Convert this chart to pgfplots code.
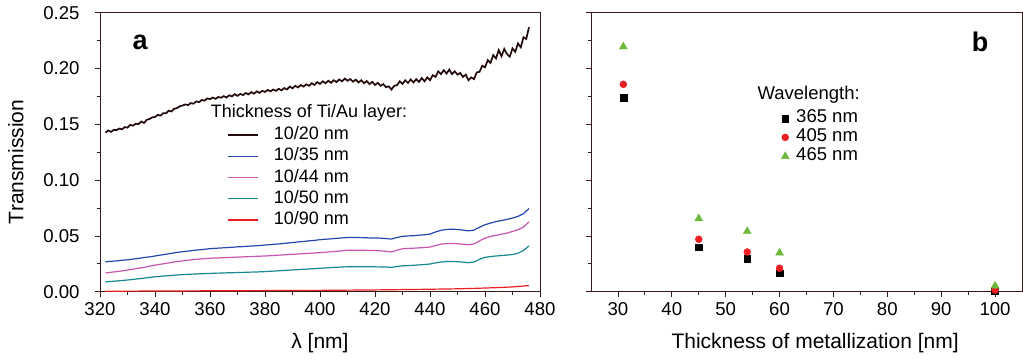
\documentclass[border=0pt]{standalone}
\usepackage{pgfplots}
\pgfplotsset{compat=1.18}
\usepackage{fontspec}
\setmainfont{Liberation Sans}
\definecolor{frame}{RGB}{55,25,25}
\definecolor{cblack}{RGB}{35,10,10}
\definecolor{cblue}{RGB}{35,70,170}
\definecolor{cmag}{RGB}{200,85,175}
\definecolor{cteal}{RGB}{20,135,145}
\definecolor{cred}{RGB}{235,30,35}
\definecolor{cgreen}{RGB}{110,185,60}
\pgfplotsset{
  common/.style={
    scale only axis, height=279pt,
    ymin=0, ymax=0.25,
    ytick={0,0.05,...,0.25}, minor y tick num=1,
    minor x tick num=1,
    tick align=outside, major tick length=5pt, minor tick length=3pt,
    xtick pos=bottom, ytick pos=left,
    axis line style={frame, line width=0.8pt},
    tick style={frame, line width=0.8pt},
    ticklabel style={font=\fontsize{18.6}{22}\selectfont},
    /pgf/number format/assume math mode=true,
    label style={font=\fontsize{21}{25}\selectfont},
    scaled y ticks=false,
  }
}
\begin{document}
\begin{tikzpicture}
\path[use as bounding box] (-100pt,-68.3pt) rectangle (923pt,291.7pt);
\begin{axis}[common,
  width=440pt,
  xmin=320, xmax=480, xtick={320,340,...,480},
  yticklabel style={/pgf/number format/fixed, /pgf/number format/fixed zerofill, /pgf/number format/precision=2, xshift=-12pt},
  xticklabel style={yshift=-2pt},
  xlabel={λ [nm]}, ylabel={Transmission},
  xlabel style={at={(axis description cs:0.5,-0.183)}, anchor=center},
  ylabel style={at={(axis description cs:-0.191,0.465)}, anchor=center},
  legend style={at={(axis description cs:0.289,0.592)}, anchor=north west, draw=none, fill=none,
    inner sep=0pt, font=\fontsize{18}{21}\selectfont, row sep=4.4pt,
    nodes={inner sep=0pt, text height=13pt, text depth=3.8pt},
    /tikz/every odd column/.append style={column sep=15pt}},
  legend image code/.code={\draw[#1, line width=1.5pt] (0pt,0pt) -- (30pt,0pt);},
]
\addplot[cblack, line width=1.7pt] coordinates {
(322,.1425)(323,.1445)(324,.1432)(325,.1450)(326,.1448)(327,.1462)(328,.1455)(329,.1475)(330,.1470)
(331,.1495)(332,.1488)(333,.1505)(334,.1502)(335,.1525)(336,.1512)(337,.1540)(338,.1548)(339,.1562)(340,.1565)
(341,.1585)(342,.1578)(343,.1600)(344,.1598)(345,.1622)(346,.1615)(347,.1640)(348,.1645)(349,.1662)(350,.1668)
(351,.1678)(352,.1672)(353,.1690)(354,.1685)(355,.1705)(356,.1698)(357,.1718)(358,.1712)(359,.1732)(360,.1725)
(361,.1740)(362,.1728)(363,.1745)(364,.1738)(365,.1752)(366,.1740)(367,.1760)(368,.1750)(369,.1770)(370,.1755)
(371,.1772)(372,.1762)(373,.1780)(374,.1768)(375,.1788)(376,.1775)(377,.1795)(378,.1782)(379,.1800)(380,.1790)
(381,.1808)(382,.1795)(383,.1812)(384,.1800)(385,.1818)(386,.1805)(387,.1825)(388,.1812)(389,.1838)(390,.1822)
(391,.1845)(392,.1830)(393,.1852)(394,.1838)(395,.1858)(396,.1845)(397,.1868)(398,.1852)(399,.1878)(400,.1862)
(401,.1885)(402,.1868)(403,.1890)(404,.1872)(405,.1895)(406,.1878)(407,.1902)(408,.1885)(409,.1910)(410,.1890)
(411,.1905)(412,.1882)(413,.1900)(414,.1875)(415,.1895)(416,.1868)(417,.1888)(418,.1860)(419,.1880)(420,.1852)
(421,.1872)(422,.1845)(423,.1860)(424,.1832)(425,.1840)(426,.1812)(427,.1845)(428,.1850)(429,.1885)(430,.1862)
(431,.1895)(432,.1870)(433,.1902)(434,.1875)(435,.1905)(436,.1880)(437,.1915)(438,.1885)(439,.1920)(440,.1895)
(441,.1940)(442,.1925)(443,.1975)(444,.1950)(445,.1985)(446,.1955)(447,.1990)(448,.1950)(449,.1975)(450,.1945)
(451,.1960)(452,.1925)(453,.1945)(454,.1895)(455,.1920)(456,.1905)(457,.1965)(458,.1970)(459,.2025)(460,.2010)
(461,.2075)(462,.2050)(463,.2120)(464,.2090)(465,.2165)(466,.2110)(467,.2175)(468,.2130)(469,.2105)(470,.2180)
(471,.2150)(472,.2225)(473,.2190)(474,.2280)(475,.2265)(476,.2370)
};
\addlegendentry{10/20 nm}
\addplot[cblue, line width=1.2pt] coordinates {
(322,.0268)(324,.0272)(326,.0276)(328,.0282)(330,.0286)(332,.0292)(334,.0298)(336,.0306)(338,.0312)(340,.0320)
(342,.0328)(344,.0336)(346,.0344)(348,.0352)(350,.0358)(352,.0364)(354,.0370)(356,.0375)(358,.0380)(360,.0386)
(362,.0389)(364,.0392)(366,.0395)(368,.0398)(370,.0402)(372,.0404)(374,.0408)(376,.0410)(378,.0414)(380,.0418)
(382,.0422)(384,.0426)(386,.0430)(388,.0436)(390,.0440)(392,.0446)(394,.0450)(396,.0456)(398,.0460)(400,.0466)
(402,.0470)(404,.0474)(406,.0478)(408,.0482)(410,.0486)(412,.0486)(414,.0485)(416,.0484)(418,.0482)(420,.0481)
(422,.0480)(424,.0476)(426,.0472)(428,.0486)(430,.0496)(432,.0500)(434,.0502)(436,.0506)(438,.0510)(440,.0516)
(442,.0535)(444,.0550)(446,.0558)(448,.0560)(450,.0558)(452,.0552)(454,.0545)(456,.0552)(458,.0578)(460,.0600)
(462,.0615)(464,.0628)(466,.0638)(468,.0648)(470,.0660)(472,.0675)(474,.0700)(476,.0745)
};
\addlegendentry{10/35 nm}
\addplot[cmag, line width=1.2pt] coordinates {
(322,.0168)(324,.0174)(326,.0180)(328,.0186)(330,.0194)(332,.0202)(334,.0210)(336,.0218)(338,.0228)(340,.0238)
(342,.0246)(344,.0254)(346,.0262)(348,.0270)(350,.0276)(352,.0282)(354,.0288)(356,.0292)(358,.0296)(360,.0300)
(362,.0302)(364,.0304)(366,.0306)(368,.0308)(370,.0310)(372,.0312)(374,.0314)(376,.0316)(378,.0318)(380,.0320)
(382,.0323)(384,.0326)(386,.0329)(388,.0332)(390,.0335)(392,.0338)(394,.0341)(396,.0344)(398,.0347)(400,.0350)
(402,.0354)(404,.0358)(406,.0362)(408,.0366)(410,.0372)(412,.0372)(414,.0372)(416,.0371)(418,.0370)(420,.0369)
(422,.0366)(424,.0362)(426,.0356)(428,.0372)(430,.0385)(432,.0388)(434,.0390)(436,.0393)(438,.0396)(440,.0400)
(442,.0414)(444,.0426)(446,.0432)(448,.0432)(450,.0430)(452,.0426)(454,.0420)(456,.0428)(458,.0455)(460,.0480)
(462,.0495)(464,.0505)(466,.0515)(468,.0525)(470,.0540)(472,.0555)(474,.0580)(476,.0625)
};
\addlegendentry{10/44 nm}
\addplot[cteal, line width=1.2pt] coordinates {
(322,.0088)(324,.0092)(326,.0096)(328,.0100)(330,.0105)(332,.0110)(334,.0116)(336,.0121)(338,.0128)(340,.0134)
(342,.0138)(344,.0142)(346,.0146)(348,.0150)(350,.0153)(352,.0156)(354,.0158)(356,.0160)(358,.0162)(360,.0164)
(362,.0166)(364,.0167)(366,.0169)(368,.0170)(370,.0172)(372,.0173)(374,.0175)(376,.0176)(378,.0178)(380,.0180)
(382,.0183)(384,.0186)(386,.0189)(388,.0192)(390,.0195)(392,.0198)(394,.0201)(396,.0204)(398,.0207)(400,.0210)
(402,.0213)(404,.0216)(406,.0219)(408,.0221)(410,.0224)(412,.0224)(414,.0224)(416,.0224)(418,.0224)(420,.0223)
(422,.0222)(424,.0221)(426,.0218)(428,.0226)(430,.0232)(432,.0234)(434,.0237)(436,.0240)(438,.0244)(440,.0248)
(442,.0258)(444,.0266)(446,.0270)(448,.0270)(450,.0269)(452,.0265)(454,.0260)(456,.0266)(458,.0290)(460,.0308)
(462,.0315)(464,.0320)(466,.0324)(468,.0328)(470,.0333)(472,.0345)(474,.0370)(476,.0410)
};
\addlegendentry{10/50 nm}
\addplot[cred, line width=1.2pt] coordinates {
(322,.0004)(330,.0005)(340,.0006)(350,.0007)(360,.0008)(370,.0009)(380,.0010)(390,.0011)(400,.0012)
(410,.0014)(420,.0016)(430,.0019)(440,.0022)(450,.0026)(455,.0029)(460,.0033)(465,.0037)(470,.0043)(476,.0055)
};
\addlegendentry{10/90 nm}
\node[font=\fontsize{18}{21}\selectfont] at (axis description cs:0.475,0.640) {Thickness of Ti/Au layer:};
\node[font=\bfseries\fontsize{27}{30}\selectfont] at (axis description cs:0.091,0.895) {a};
\end{axis}
\begin{axis}[common,
  at={(491pt,0pt)}, width=431pt,
  xmin=25, xmax=105, xtick={30,40,...,100},
  yticklabels={},
  xticklabel style={yshift=-2pt},
  xlabel={Thickness of metallization [nm]},
  xlabel style={at={(axis description cs:0.52,-0.183)}, anchor=center},
  clip=false,
  legend style={at={(axis description cs:0.441,0.652)}, anchor=north west, draw=none, fill=none,
    inner sep=0pt, font=\fontsize{18.5}{21}\selectfont, row sep=2.2pt,
    nodes={inner sep=0pt, text height=13pt, text depth=3.8pt},
    /tikz/every odd column/.append style={column sep=7pt}},
  legend image code/.code={\draw[mark repeat=2,mark phase=2,#1] plot coordinates {(0pt,0pt)(5pt,0pt)(10pt,0pt)};},
]
\addplot[only marks, mark=square*, mark size=3.4pt, black] coordinates {(31,0.1736)(45,0.0398)(54,0.0293)(60,0.0165)(100,0.0008)};
\addlegendentry{365 nm}
\addplot[only marks, mark=*, mark size=3.5pt, cred, mark options={draw=cred, fill=cred}] coordinates {(31,0.1858)(45,0.0470)(54,0.0356)(60,0.0210)(100,0.0015)};
\addlegendentry{405 nm}
\addplot[only marks, mark=triangle*, mark size=4.6pt, cgreen, mark options={draw=cgreen, fill=cgreen}] coordinates {(31,0.2195)(45,0.0655)(54,0.0540)(60,0.0348)(100,0.0052)};
\addlegendentry{465 nm}
\node[font=\fontsize{18.5}{21}\selectfont] at (axis description cs:0.505,0.705) {Wavelength:};
\node[font=\bfseries\fontsize{27}{30}\selectfont] at (axis description cs:0.9026,0.895) {b};
\end{axis}
\end{tikzpicture}
\end{document}
